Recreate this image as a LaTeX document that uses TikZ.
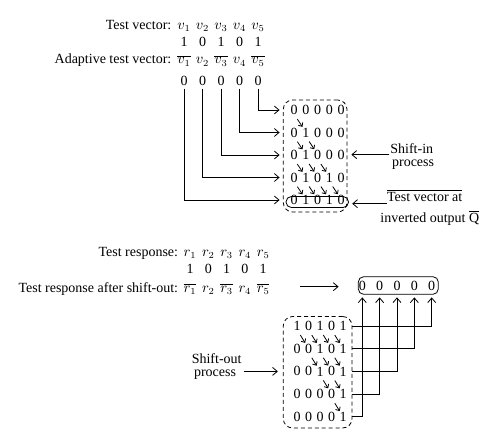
\documentclass[tikz,border=0pt]{standalone}
\usepackage{fontspec}
\setmainfont{Liberation Serif}
\usetikzlibrary{fit,arrows.meta}

\tikzset{
  bit/.style={inner sep=0.5pt},
  vrow/.style={inner sep=0.5pt,anchor=base},
  lab/.style={inner sep=0pt,anchor=base east},
  note/.style={inner sep=0pt,anchor=base west},
  dbox/.style={draw,dash pattern=on 3pt off 2.2pt,rounded corners=7pt,inner sep=0pt},
  sbox/.style={draw,rounded corners=4pt,inner sep=0pt},
  hop/.style={-{Straight Barb[length=2.2pt,width=4pt]}},
}

\begin{document}
\begin{tikzpicture}[x=7.5pt,y=-7.5pt,line width=0.6pt,
  >={Straight Barb[length=3.5pt,width=6pt]},
  font=\fontsize{10.5}{12.6}\selectfont]
  \useasboundingbox (0,0) rectangle (50,44.2);
  % test vector
  \node[lab] (tv) at (17.17,2.93) {Test vector:};
  \node[lab] (atv) at (17.17,6.4) {Adaptive test vector:};
  \foreach \b/\a [count=\i] in {1/\overline{v_1},0/v_2,1/\overline{v_3},0/v_4,1/\overline{v_5}}{
    \node[vrow] (v\i) at (18.4+1.85*\i-1.85,2.93) {$v_\i$};
    \node[vrow] (b\i) at (18.4+1.85*\i-1.85,4.67) {\b};
    \node[vrow] (a\i) at (18.4+1.85*\i-1.85,6.4) {$\a$};
    \node[vrow] (z\i) at (18.4+1.85*\i-1.85,8.53) {0};
  }
  % shift-in register
  \foreach \bits [count=\r] in {{0,0,0,0,0},{0,1,0,0,0},{0,1,0,0,0},{0,1,0,1,0},{0,1,0,1,0}}
    \foreach \d [count=\c] in \bits
      \node[bit] (u-\r-\c) at (29.4+1.18*\c-1.18,11+2.25*\r-2.25) {\d};
  \node[dbox,fit={(28.33,10.0) (34.7,21.2)}] (inreg) {};
  \node[sbox,fit={(28.6,19.65) (34.85,20.75)}] (outq) {};
  \foreach \r in {1,...,4}
    \foreach \c in {1,...,\r}{
      \pgfmathtruncatemacro\rr{\r+1}
      \pgfmathtruncatemacro\cc{\c+1}
      \draw[hop] ([xshift=2.5pt,yshift=-2.5pt]u-\r-\c.south) -- ([xshift=-2.5pt]u-\rr-\cc.north);
    }
  \foreach \c in {1,...,5}{
    \pgfmathtruncatemacro\r{6-\c}
    \draw[->,shorten <=1.5pt,shorten >=2.5pt] (z\c.south) |- (inreg.west |- u-\r-1);
  }
  % labels on the right
  \node[note] (sin) at (39.0,15.3) {Shift-in};
  \node[note] (sinp) at (39.17,16.6) {process};
  \coordinate (sinA) at ([xshift=-0.5pt,yshift=-1.2pt]sin.base west);
  \draw[->,shorten >=3pt] (sinA) -- (sinA -| inreg.east);
  \node[note] (tva) at (38.67,20.17) {$\overline{\mbox{Test vector at}}$};
  \node[note] (ioq) at (38.0,22.23) {inverted output $\overline{\mbox{Q}}$};
  \coordinate (tvaA) at ([yshift=-1.5pt]tva.base west);
  \draw[->,shorten >=2.5pt] (tvaA) -- (tvaA -| outq.east);

  % test response
  \node[lab] (tr) at (17.85,25.6) {Test response:};
  \node[lab] (tra) at (17.85,29.2) {Test response after shift-out:};
  \foreach \b/\a [count=\i] in {1/\overline{r_1},0/r_2,1/\overline{r_3},0/r_4,1/\overline{r_5}}{
    \node[vrow] (r\i) at (19+1.83*\i-1.83,25.6) {$r_\i$};
    \node[vrow] (rb\i) at (19+1.83*\i-1.83,27.3) {\b};
    \node[vrow] (ra\i) at (19+1.83*\i-1.83,29.2) {$\a$};
  }
  % shift-out register
  \foreach \bits [count=\r] in {{1,0,1,0,1},{0,0,1,0,1},{0,0,1,0,1},{0,0,0,0,1},{0,0,0,0,1}}
    \foreach \d [count=\c] in \bits
      \node[bit] (o-\r-\c) at (29.7+1.15*\c-1.15,32.6+2.27*\r-2.27) {\d};
  \node[dbox,fit={(28.33,31.65) (35.2,42.8)}] (outreg) {};
  \foreach \r in {1,...,4}
    \foreach \c in {\r,...,4}{
      \pgfmathtruncatemacro\rr{\r+1}
      \pgfmathtruncatemacro\cc{\c+1}
      \draw[hop] ([xshift=2.5pt,yshift=-2.5pt]o-\r-\c.south) -- ([xshift=-2.5pt]o-\rr-\cc.north);
    }
  % result register
  \foreach \c in {1,...,5}
    \node[bit] (t-\c) at (36.23+1.735*\c-1.735,28.57) {0};
  \node[sbox,fit={(35.83,27.67) (43.83,29.43)}] (treg) {};
  \foreach \r in {1,...,5}{
    \pgfmathtruncatemacro\c{6-\r}
    \draw[->,shorten >=2pt] (outreg.east |- o-\r-5) -| (t-\c.south |- treg.south);
  }
  \coordinate (so) at (30.0,28.67);
  \draw[->,shorten >=14.5pt] (so) -- (so -| treg.west);
  \node[note,anchor=base] (sout) at (21.67,36.35) {Shift-out};
  \node[note,anchor=base] (soutp) at (21.5,37.65) {process};
  \coordinate (soA) at ([xshift=1.2pt]sout.east |- o-3-1);
  \draw[->,shorten >=3.8pt] (soA) -- (soA -| outreg.west);
\end{tikzpicture}
\end{document}
